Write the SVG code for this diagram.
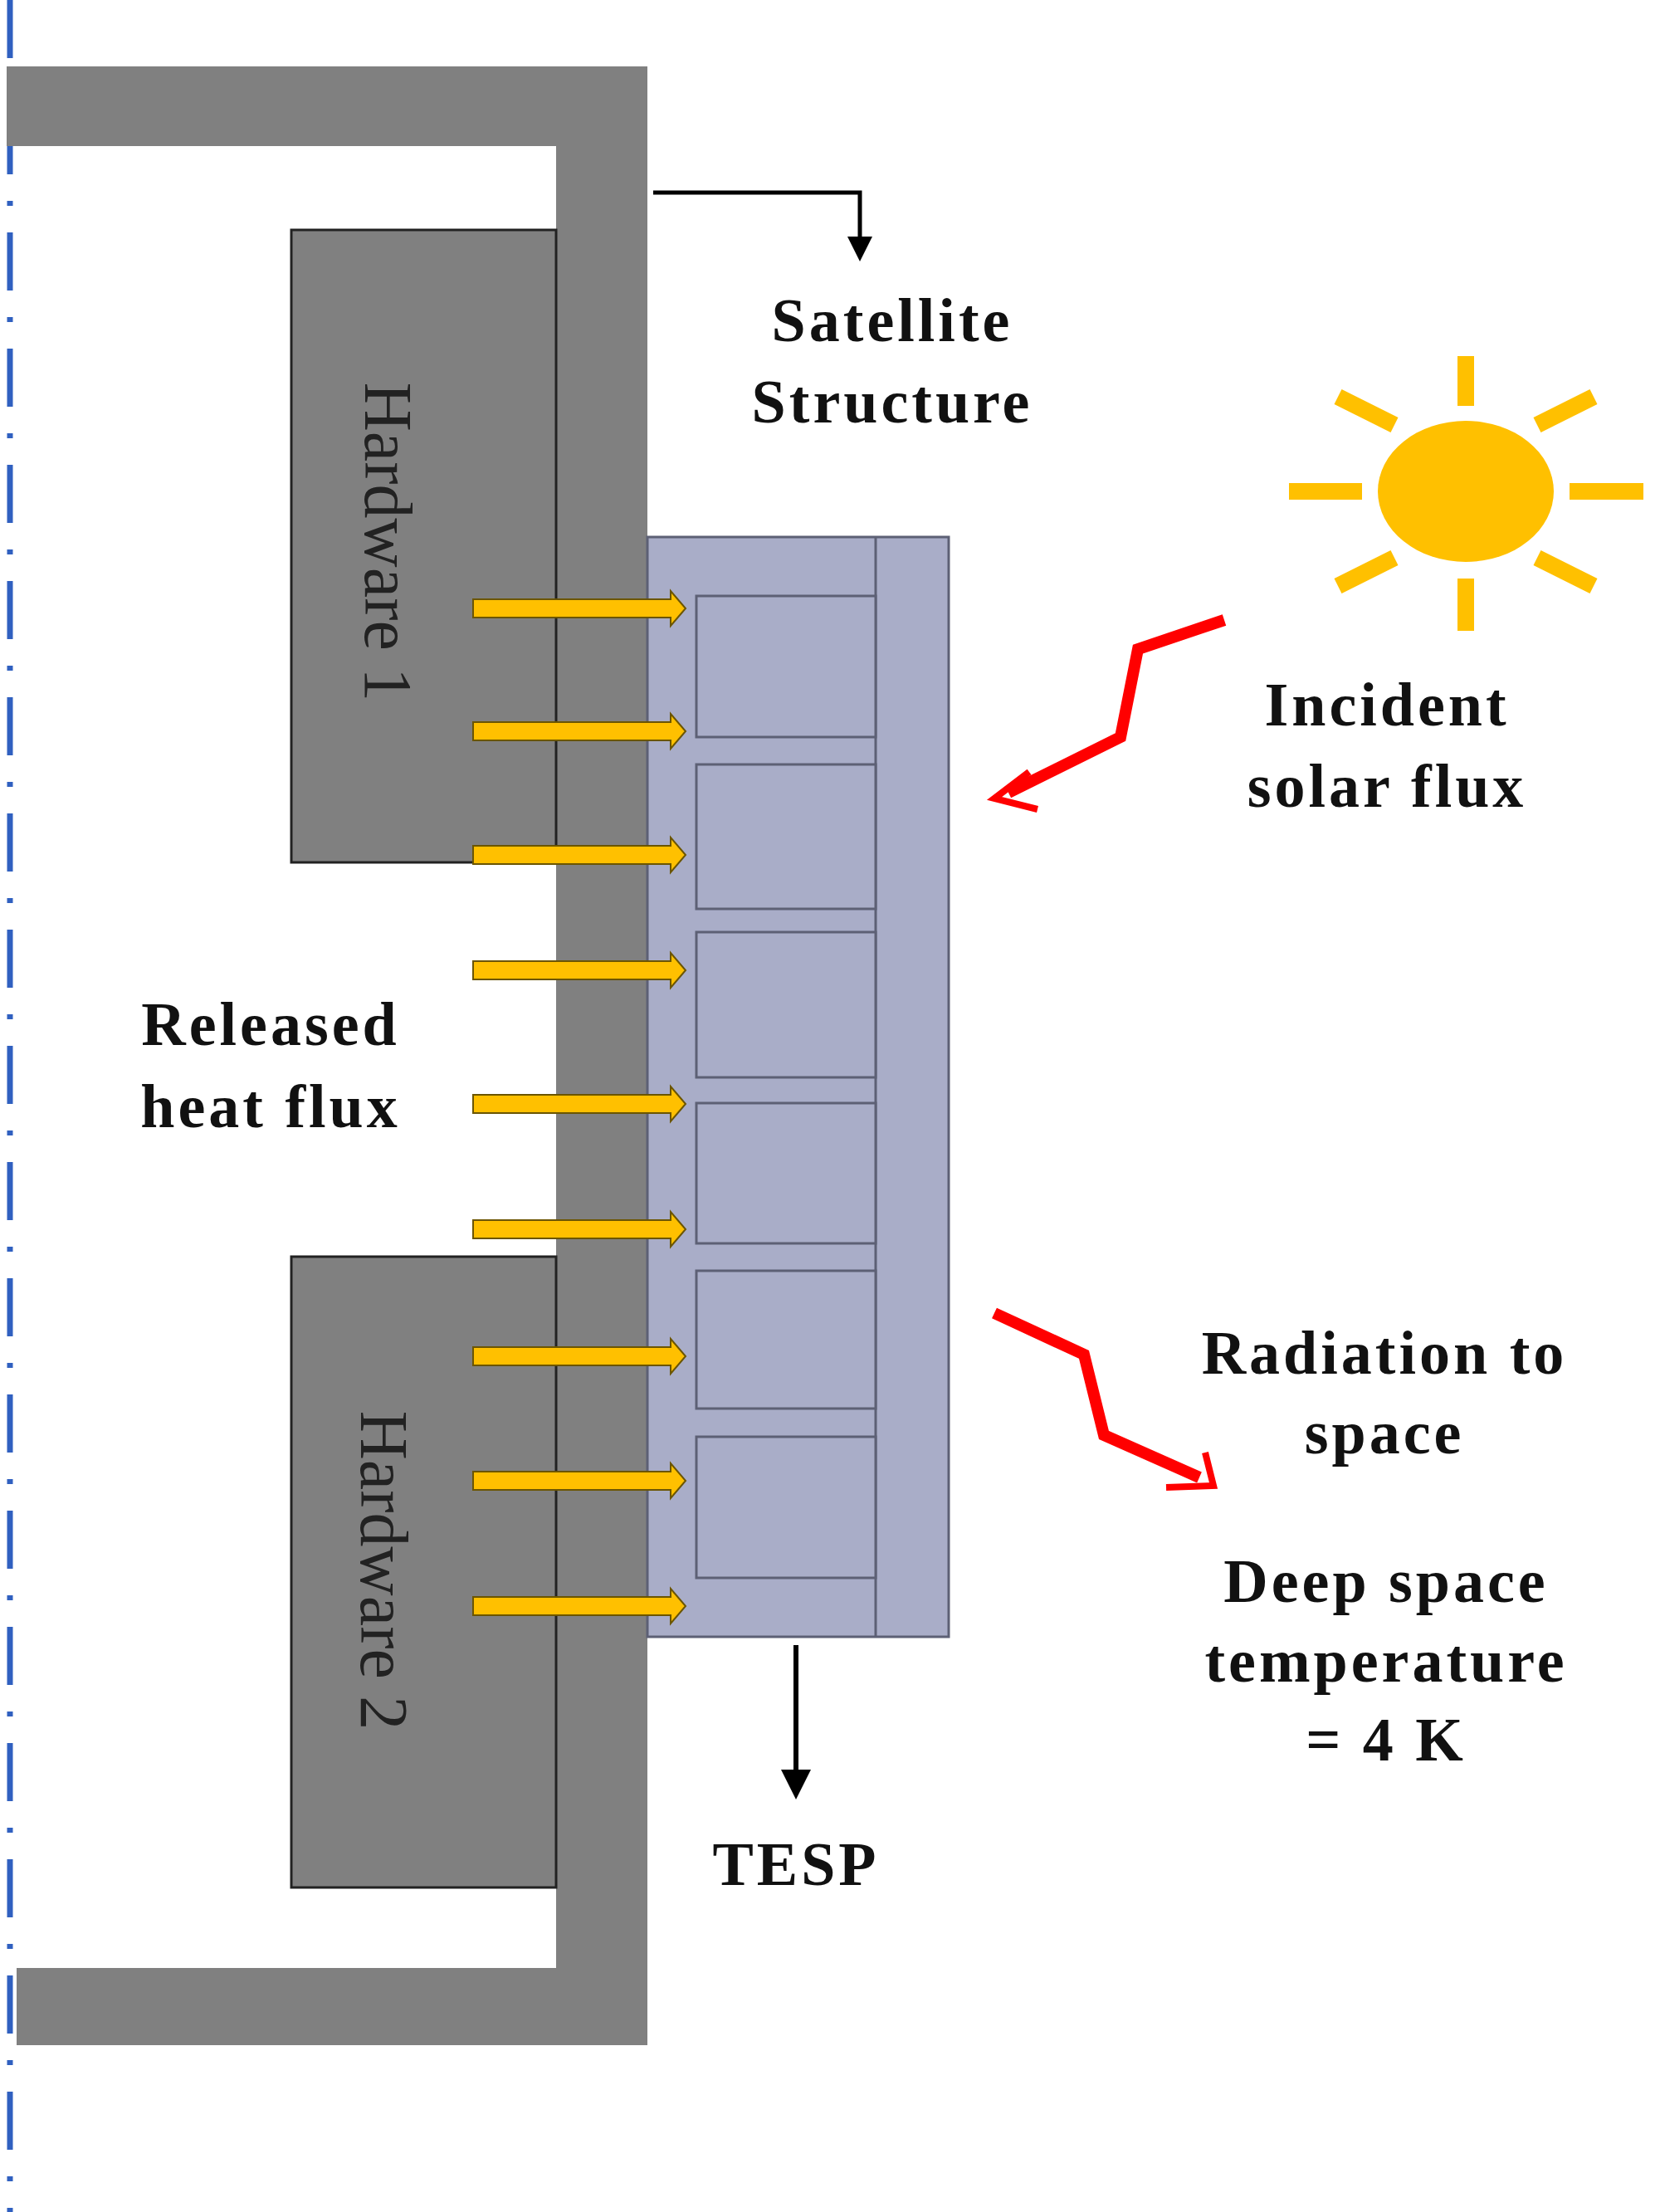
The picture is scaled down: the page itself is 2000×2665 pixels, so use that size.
<svg xmlns="http://www.w3.org/2000/svg" width="2000" height="2665" viewBox="0 0 2000 2665">
<style>
.t{font-family:"Liberation Serif",serif;font-weight:bold;font-size:74px;letter-spacing:4px;text-anchor:middle;fill:#111}
.hw{font-family:"Liberation Serif",serif;font-size:82px;text-anchor:middle;fill:#222}
.cell{fill:#a9adc8;stroke:#5d6075;stroke-width:3}
.ya{fill:#ffc000;stroke:#6b5500;stroke-width:2}
.ray{stroke:#ffc000;stroke-width:20}
</style>
<defs>
<marker id="ah" markerWidth="6" markerHeight="6" refX="3" refY="3" orient="auto" markerUnits="strokeWidth"><path d="M0,0 L6,3 L0,6z" fill="#000"/></marker>
<path id="ya" d="M0,-12 L75,-12 L75,-16 L85,-10 M0,0" />
</defs>
<line x1="12" y1="0" x2="12" y2="2665" stroke="#3060c0" stroke-width="7" stroke-dasharray="70,32,6,32"/>
<g id="structure" fill="#808080">
<rect x="8" y="80" width="772" height="96"/>
<rect x="670" y="80" width="110" height="2384"/>
<rect x="20" y="2371" width="760" height="93"/>
</g>
<g id="hardware1"><rect x="351" y="277" width="319" height="762" fill="#808080" stroke="#222" stroke-width="3"/>
<text class="hw" transform="translate(440,653) rotate(90)">Hardware 1</text></g>
<g id="hardware2"><rect x="351" y="1514" width="319" height="760" fill="#808080" stroke="#222" stroke-width="3"/>
<text class="hw" transform="translate(435,1892) rotate(90)">Hardware 2</text></g>
<g id="tesp">
<rect x="780" y="647" width="363" height="1325" fill="#a9adc8" stroke="#5d6075" stroke-width="3"/>
<line x1="1055" y1="647" x2="1055" y2="1972" stroke="#5d6075" stroke-width="3"/>
<rect class="cell" x="839" y="718" width="216" height="170"/>
<rect class="cell" x="839" y="921" width="216" height="174"/>
<rect class="cell" x="839" y="1123" width="216" height="175"/>
<rect class="cell" x="839" y="1329" width="216" height="169"/>
<rect class="cell" x="839" y="1531" width="216" height="166"/>
<rect class="cell" x="839" y="1731" width="216" height="170"/>
</g>
<g id="sun">
<ellipse cx="1766" cy="592" rx="106" ry="85" fill="#ffc000"/>
<line class="ray" x1="1766" y1="429" x2="1766" y2="489"/>
<line class="ray" x1="1766" y1="697" x2="1766" y2="760"/>
<line class="ray" x1="1553" y1="592" x2="1641" y2="592"/>
<line class="ray" x1="1891" y1="592" x2="1980" y2="592"/>
<line class="ray" x1="1612" y1="478" x2="1680" y2="512"/>
<line class="ray" x1="1920" y1="478" x2="1852" y2="512"/>
<line class="ray" x1="1612" y1="706" x2="1680" y2="672"/>
<line class="ray" x1="1920" y1="706" x2="1852" y2="672"/>
</g>
<g id="connectors">
<g id="heat-arrows">
<path class="ya" d="M570,722 H808 V712 L826,733 L808,754 V744 H570Z"/>
<path class="ya" d="M570,870 H808 V860 L826,881 L808,902 V892 H570Z"/>
<path class="ya" d="M570,1019 H808 V1009 L826,1030 L808,1051 V1041 H570Z"/>
<path class="ya" d="M570,1158 H808 V1148 L826,1169 L808,1190 V1180 H570Z"/>
<path class="ya" d="M570,1319 H808 V1309 L826,1330 L808,1351 V1341 H570Z"/>
<path class="ya" d="M570,1470 H808 V1460 L826,1481 L808,1502 V1492 H570Z"/>
<path class="ya" d="M570,1623 H808 V1613 L826,1634 L808,1655 V1645 H570Z"/>
<path class="ya" d="M570,1773 H808 V1763 L826,1784 L808,1805 V1795 H570Z"/>
<path class="ya" d="M570,1924 H808 V1914 L826,1935 L808,1956 V1946 H570Z"/>
</g>
<path d="M787,232 H1036 V300" fill="none" stroke="#000" stroke-width="5" marker-end="url(#ah)"/>
<path d="M959,1982 V2150" fill="none" stroke="#000" stroke-width="6" marker-end="url(#ah)"/>
<path d="M1475,747 L1371,782 L1350,888 L1215,955" fill="none" stroke="#f00" stroke-width="14"/>
<path d="M1240,930 L1198,962 L1250,975" fill="none" stroke="#f00" stroke-width="8"/>
<path d="M1198,1582 L1306,1632 L1330,1729 L1445,1780" fill="none" stroke="#f00" stroke-width="14"/>
<path d="M1405,1792 L1462,1790 L1452,1750" fill="none" stroke="#f00" stroke-width="8"/>
</g>
<g id="labels">
<text class="t" x="1075" y="411">Satellite</text>
<text class="t" x="1075" y="509">Structure</text>
<text class="t" x="1671" y="874">Incident</text>
<text class="t" x="1671" y="972">solar flux</text>
<text class="t" x="326" y="1259">Released</text>
<text class="t" x="326" y="1358">heat flux</text>
<text class="t" x="1668" y="1655">Radiation to</text>
<text class="t" x="1668" y="1751">space</text>
<text class="t" x="1670" y="1930">Deep space</text>
<text class="t" x="1670" y="2026">temperature</text>
<text class="t" x="1670" y="2121">=  4 K</text>
<text class="t" x="959" y="2271">TESP</text>
</g>
</svg>
